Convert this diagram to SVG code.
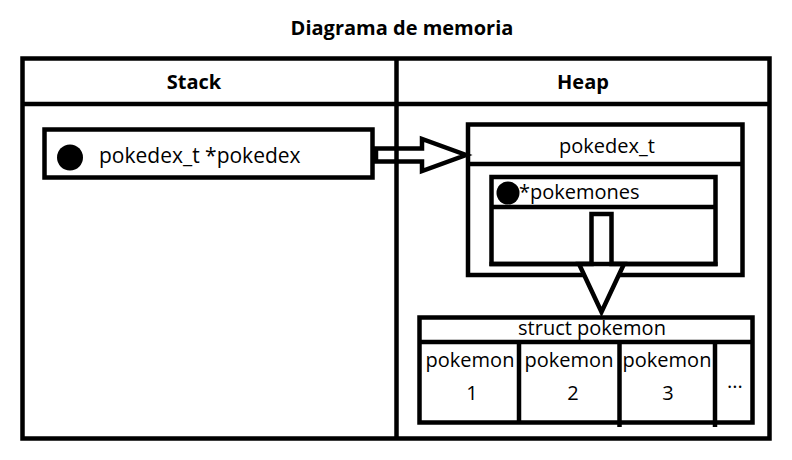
<svg xmlns="http://www.w3.org/2000/svg" width="792" height="460" viewBox="0 0 792 460">
<style>
.ln{fill:none;stroke:#000;stroke-width:4.5}
.bx{fill:#fff;stroke:#000;stroke-width:4.5}
.ar{fill:#fff;stroke:#000;stroke-width:4.5;stroke-linejoin:miter}
text{font-family:"Open Sans","Noto Sans","DejaVu Sans",sans-serif;font-size:20px;fill:#000}
.b{font-weight:bold}
.m{text-anchor:middle}
</style>
<rect width="792" height="460" fill="#fff"/>
<text class="b m" x="402" y="35">Diagrama de memoria</text>
<g id="frame">
<rect class="ln" x="22.5" y="58.5" width="747" height="380"/>
<line class="ln" x1="22.5" y1="104" x2="769.5" y2="104"/>
</g>
<g id="stack-header"><text class="b m" x="194" y="89">Stack</text></g>
<g id="heap-header"><text class="b m" x="583" y="89">Heap</text></g>
<g id="stack-pointer">
<rect class="bx" x="44.5" y="129.5" width="328" height="48"/>
<circle cx="70" cy="157.5" r="13" fill="#000"/>
<text x="99" y="163" style="font-size:21px">pokedex_t *pokedex</text>
</g>
<g id="pokedex">
<rect class="bx" x="468" y="124.5" width="274.5" height="150.5"/>
<line class="ln" x1="468" y1="164" x2="742.5" y2="164"/>
<text class="m" x="607" y="153">pokedex_t</text>
</g>
<g id="pokemones">
<rect class="bx" x="491.5" y="177" width="224" height="87"/>
<line class="ln" x1="491.5" y1="207" x2="715.5" y2="207"/>
<circle cx="508" cy="193" r="11.5" fill="#000"/>
<text x="519" y="199">*pokemones</text>
</g>
<g id="struct-pokemon">
<rect class="bx" x="419.5" y="317.5" width="333" height="105"/>
<line class="ln" x1="419.5" y1="342" x2="752.5" y2="342"/>
<line class="ln" x1="519" y1="342" x2="519" y2="422.5"/>
<line class="ln" x1="619.5" y1="342" x2="619.5" y2="427"/>
<line class="ln" x1="715" y1="342" x2="715" y2="427"/>
<text class="m" x="592" y="335">struct pokemon</text>
<text class="m" x="470" y="367">pokemon</text>
<text class="m" x="472" y="400">1</text>
<text class="m" x="569" y="367">pokemon</text>
<text class="m" x="573" y="400">2</text>
<text class="m" x="667" y="367">pokemon</text>
<text class="m" x="668" y="400">3</text>
<text class="m" x="735" y="388">...</text>
</g>
<g id="connectors">
<polygon class="ar" points="376,148.5 422,148.5 422,139 466,155 422,171 422,161.5 376,161.5"/>
<polygon class="ar" points="591.5,214 611.5,214 611.5,264 624,264 601.5,312 579,264 591.5,264"/>
</g>
<g id="overlaps">
<line class="ln" x1="396.5" y1="58.5" x2="396.5" y2="438.5"/>
<line class="ln" x1="489.5" y1="264" x2="717.5" y2="264"/>
</g>
</svg>
